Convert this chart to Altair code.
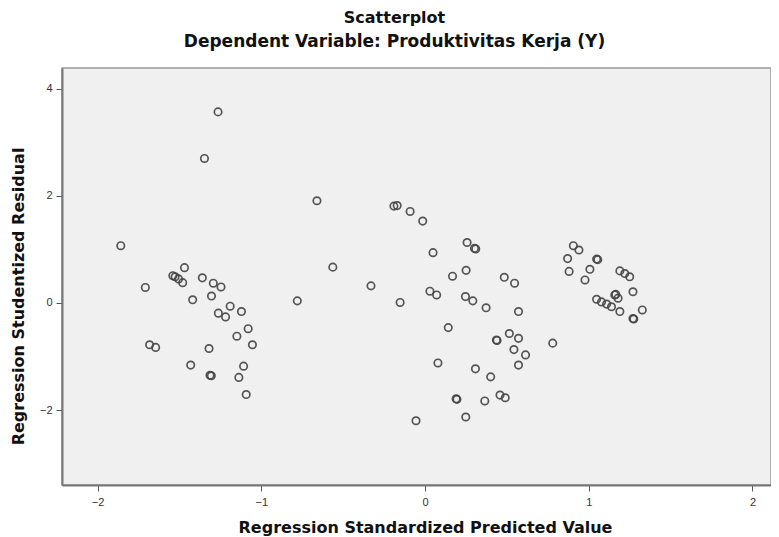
import altair as alt
import pandas as pd

predicted = [
    -1.264, -1.347, -1.858, -0.660,
    -1.469, -1.540, -1.526, -1.505, -1.480, -1.360, -1.293, -1.246, -1.708, -1.419, -1.304,
    -1.190, -1.121, -1.262, -1.218, -1.080, -1.149, -1.054, -1.682, -1.645, -1.319, -1.431,
    -1.108, -1.313, -1.305, -1.137, -1.092, -0.780,
    -0.190, -0.170, -0.091, -0.014, 0.257, 0.302, 0.310, 0.049, -0.563, 0.251, 0.168, 0.484,
    0.547, -0.330, 0.030, 0.071, 0.247, 0.292, 0.373, -0.152, 0.571,
    0.142, 0.436, 0.440, 0.515, 0.571, 0.543, 0.614, 0.571, 0.780, 0.079, 0.308, 0.401,
    0.190, 0.195, 0.365, 0.458, 0.490, 0.249, -0.055,
    0.906, 0.940, 0.871, 1.048, 1.055, 0.880, 1.007, 0.977, 1.190, 1.220, 1.250, 1.270,
    1.159, 1.165, 1.179, 1.048, 1.078, 1.109, 1.139, 1.190, 1.327, 1.270, 1.275,
]
residual = [
    3.57, 2.70, 1.07, 1.91,
    0.66, 0.51, 0.49, 0.45, 0.38, 0.47, 0.37, 0.30, 0.29, 0.06, 0.13,
    -0.06, -0.16, -0.19, -0.26, -0.48, -0.62, -0.78, -0.78, -0.83, -0.85, -1.16,
    -1.18, -1.35, -1.36, -1.39, -1.71, 0.04,
    1.81, 1.82, 1.71, 1.53, 1.13, 1.02, 1.01, 0.94, 0.67, 0.61, 0.50, 0.48,
    0.37, 0.32, 0.22, 0.15, 0.12, 0.04, -0.09, 0.01, -0.16,
    -0.46, -0.69, -0.70, -0.57, -0.66, -0.87, -0.97, -1.16, -0.75, -1.12, -1.23, -1.38,
    -1.79, -1.80, -1.83, -1.72, -1.77, -2.13, -2.20,
    1.07, 0.99, 0.83, 0.82, 0.81, 0.59, 0.63, 0.43, 0.60, 0.55, 0.49, 0.21,
    0.15, 0.16, 0.09, 0.07, 0.02, -0.02, -0.07, -0.16, -0.13, -0.29, -0.30,
]

x_ticks = [-2, -1, 0, 1, 2]
y_ticks = [-2, 0, 2, 4]

df = pd.DataFrame({"pred": predicted, "resid": residual})

title_font = "DejaVu Sans"
label_font = "Liberation Sans"

chart = (
    alt.Chart(df)
    .mark_point(shape="circle", filled=False, color="#444444", size=55, strokeWidth=1.7, opacity=0.9)
    .encode(
        x=alt.X(
            "pred:Q",
            scale=alt.Scale(domain=[-2.217, 2.113], nice=False, zero=False),
            axis=alt.Axis(
                title="Regression Standardized Predicted Value",
                values=x_ticks,
                grid=False,
                domainColor="#777777",
                domainWidth=2,
                tickColor="#555555",
                tickSize=6,
                labelFontSize=11,
                labelColor="#333333",
                labelPadding=5,
                labelFont=label_font,
                titleFontSize=16,
                titleFont=title_font,
                titleFontWeight="bold",
                titleColor="#111111",
                titlePadding=12,
                titleX=363,
            ),
        ),
        y=alt.Y(
            "resid:Q",
            scale=alt.Scale(domain=[-3.4, 4.39], nice=False, zero=False),
            axis=alt.Axis(
                title="Regression Studentized Residual",
                values=y_ticks,
                grid=False,
                domainColor="#777777",
                domainWidth=2,
                tickColor="#555555",
                tickSize=6,
                labelFontSize=11,
                labelColor="#333333",
                labelPadding=4,
                labelFont=label_font,
                titleFontSize=16,
                titleFont=title_font,
                titleFontWeight="bold",
                titleColor="#111111",
                titlePadding=13,
                titleY=228,
            ),
        ),
    )
    .properties(
        width=709,
        height=417,
        autosize=alt.AutoSizeParams(type="none"),
        padding={"left": 54, "top": 60, "right": 0, "bottom": 52},
        title=alt.TitleParams(
            text="Scatterplot",
            subtitle="Dependent Variable: Produktivitas Kerja (Y)",
            anchor="middle",
            dx=-22,
            font=title_font,
            fontSize=16,
            fontWeight="bold",
            color="#111111",
            subtitleFont=title_font,
            subtitleFontSize=17,
            subtitleFontWeight="bold",
            subtitleColor="#111111",
            subtitlePadding=8,
            offset=18,
        ),
    )
    .configure_view(fill="#f0f0f0", stroke="#999999", strokeWidth=1.5)
)

chart.save("out.html", embed_options={"renderer": "svg", "actions": False})
